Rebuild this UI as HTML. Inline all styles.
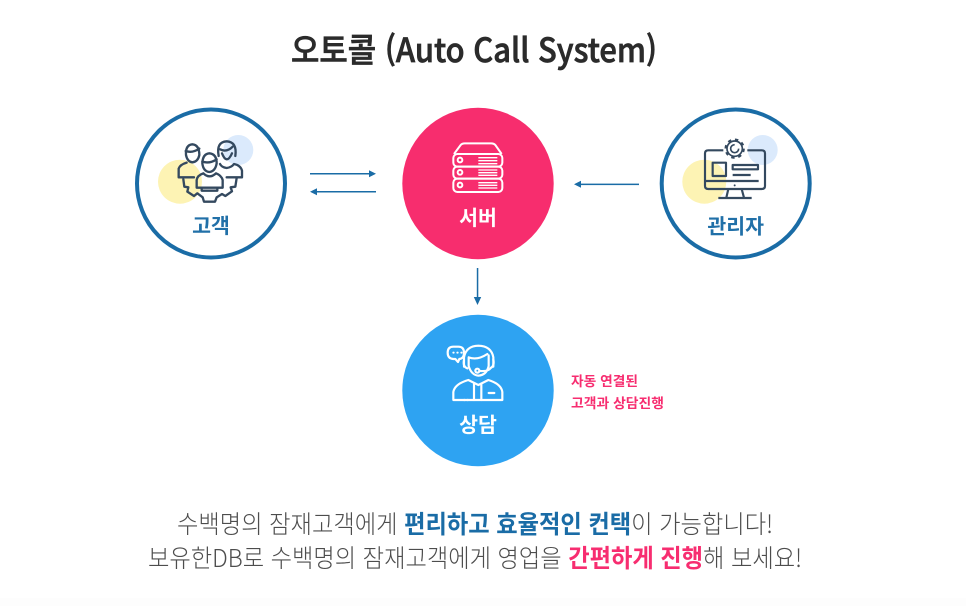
<!DOCTYPE html>
<html lang="ko"><head><meta charset="utf-8"><title>오토콜 (Auto Call System)</title>
<style>
html,body{margin:0;padding:0;background:#fff;width:966px;height:606px;overflow:hidden}
svg{display:block;filter:blur(.3px)}
text{font-family:"Liberation Sans","Noto Sans CJK KR",sans-serif}
.k{font-family:"Noto Sans CJK KR","Liberation Sans",sans-serif}
</style></head><body>
<svg width="966" height="606" viewBox="0 0 966 606" xmlns="http://www.w3.org/2000/svg">
<rect x="0" y="598" width="966" height="8" fill="#fdfdfd"/>
<text class="k" x="291" y="62" font-size="33" font-weight="500" fill="#2b2b2b" stroke="#2b2b2b" stroke-width=".7" textLength="366" lengthAdjust="spacingAndGlyphs">오토콜 (Auto Call System)</text>

<circle cx="180" cy="181.7" r="22" fill="#fdf3b4"/>
<circle cx="238.3" cy="150" r="15" fill="#dbeafc"/>
<circle cx="211" cy="183.5" r="74" fill="none" stroke="#1a6ca6" stroke-width="4"/>
<circle cx="704.3" cy="181.7" r="22" fill="#fdf3b4"/>
<circle cx="762.7" cy="150" r="15" fill="#dbeafc"/>
<circle cx="735.7" cy="183.5" r="74" fill="none" stroke="#1a6ca6" stroke-width="4"/>
<circle cx="478" cy="183.5" r="75.7" fill="#f72d6e"/>
<circle cx="478" cy="390.5" r="75.7" fill="#2ea3f2"/>

<g fill="#1a6ca6" stroke="none">
<rect x="310" y="173" width="60" height="1.5"/><path d="M369 170.2L376 173.7L369 177.2Z"/>
<rect x="316" y="191" width="60" height="1.5"/><path d="M317 188.2L310 191.7L317 195.2Z"/>
<rect x="580" y="183.6" width="59" height="1.5"/><path d="M581 180.8L574 184.3L581 187.8Z"/>
<rect x="476.8" y="268" width="1.5" height="30"/><path d="M473.8 297L477.5 305L481.2 297Z"/>
</g>

<!-- customers icon -->
<g transform="translate(120 90) scale(.33333)" fill="none" stroke="#34495f" stroke-width="7" stroke-linejoin="round" stroke-linecap="round">
<path d="M198 195Q196 165 217 163Q238 165 238 195Q234 215 217 217Q202 215 198 195Z"/>
<path d="M197 183Q217 190 238 176"/>
<path d="M200 218Q180 224 176 236L176 262L222 262"/>
<path d="M296 198Q288 156 320 154Q352 156 346 198"/>
<path d="M300 178Q320 188 338 170M306 190Q320 226 336 190"/>
<path d="M300 222Q305 232 320 234Q335 232 342 222Q362 226 366 242L366 262L320 262"/>
<path d="M247 220Q248 192 268 190Q290 192 290 220Q286 244 268 246Q250 244 247 220Z" fill="#fff"/>
<path d="M247 215Q268 222 290 208"/>
<path d="M250 250Q232 256 230 270L230 293L308 293L308 270Q304 256 288 250Q268 268 250 250Z"/>
<path d="M245 293L245 302L292 302L292 293"/>
<path d="M190 268L193 290L205 292L202 305L222 318L232 310L248 322L252 335L285 335L290 322L306 312L316 318L336 304L332 292L346 290L350 264"/>
</g>

<!-- server icon -->
<g transform="translate(390 90) scale(.33333)" fill="none" stroke="#fff" stroke-width="6" stroke-linejoin="round">
<path d="M192 192L212 165Q216 160 224 160L304 160Q312 160 316 165L335 192"/>
<rect x="190" y="192" width="147" height="38" rx="12"/>
<rect x="190" y="230" width="147" height="36" rx="12"/>
<rect x="190" y="266" width="147" height="40" rx="12"/>
<circle cx="210" cy="210" r="7"/><circle cx="210" cy="247" r="7"/><circle cx="210" cy="285" r="7"/>
<path stroke-width="4" d="M265 203H322M265 212H322M265 221H322M265 240H322M265 248H322M265 256H322M265 278H322M265 286H322M265 294H322"/>
</g>

<!-- admin icon -->
<g transform="translate(560 90) scale(.33333)" fill="none" stroke="#34495f" stroke-width="6.5" stroke-linejoin="round">
<path d="M490 181H445Q435 181 435 190V288Q435 297 445 297H605Q615 297 615 288V190Q615 181 605 181H562"/>
<path d="M435 273H596"/>
<rect x="458" y="218" width="40" height="40"/>
<rect x="518" y="225" width="76" height="13"/>
<path d="M518 255H572"/>
<path d="M505 297L499 323M545 297L552 323M475 324H575"/>
<circle cx="524" cy="286" r="3" fill="#34495f" stroke="none"/>
<circle cx="524" cy="176" r="27" stroke-width="7" stroke-dasharray="10 11.2"/>
<circle cx="524" cy="176" r="23" stroke-width="5"/>
<path d="M536 176A12 12 0 1 1 524 164" stroke-width="5"/>
</g>

<!-- agent icon -->
<g transform="translate(390 260) scale(.33333)" fill="none" stroke="#fff" stroke-width="6.5" stroke-linejoin="round" stroke-linecap="round">
<path d="M190 260H205Q222 260 222 278Q222 296 208 297L204 306L196 297H190Q173 296 173 278Q173 260 190 260Z"/>
<path stroke-width="6" stroke-dasharray="1 11" d="M190 278H216"/>
<path d="M222 320V292Q228 258 265 257Q304 258 310 292V320"/>
<path d="M222 300Q218 320 232 325M310 298Q314 318 302 324"/>
<path d="M236 292Q262 302 292 282M236 292V318Q244 345 265 347Q290 345 296 318V286"/>
<path d="M302 324Q296 335 270 333"/><circle cx="262" cy="332" r="6"/>
<path d="M190 420V396Q194 372 235 360L265 375L295 360Q334 372 337 396V420Z"/>
<path d="M252 420V372M274 420V372"/>
<path d="M296 399H313"/><path d="M222 420H224M232 420H234"/>
</g>

<g class="k" font-weight="700" font-size="20.5" text-anchor="middle">
<text class="k" x="211" y="233" fill="#2170a8">고객</text>
<text class="k" x="478" y="225" fill="#fff">서버</text>
<text class="k" x="735.7" y="233.5" fill="#2170a8">관리자</text>
<text class="k" x="478" y="432" fill="#fff">상담</text>
</g>

<text class="k" x="571" y="386" font-size="13.5" font-weight="700" fill="#f72d70" textLength="67" lengthAdjust="spacingAndGlyphs">자동 연결된</text>
<text class="k" x="571" y="408" font-size="13.5" font-weight="700" fill="#f72d70" textLength="93" lengthAdjust="spacingAndGlyphs">고객과 상담진행</text>

<text class="k" x="177" y="533" font-size="25" font-weight="300" fill="#4d4d4d" textLength="596" lengthAdjust="spacingAndGlyphs">수백명의 잠재고객에게 <tspan font-weight="700" fill="#1a6ca6">편리하고 효율적인 컨택</tspan>이 가능합니다!</text>
<text class="k" x="148" y="567" font-size="25" font-weight="300" fill="#4d4d4d" textLength="654" lengthAdjust="spacingAndGlyphs">보유한DB로 수백명의 잠재고객에게 영업을 <tspan font-weight="700" fill="#f72d70">간편하게 진행</tspan>해 보세요!</text>
</svg>
</body></html>
